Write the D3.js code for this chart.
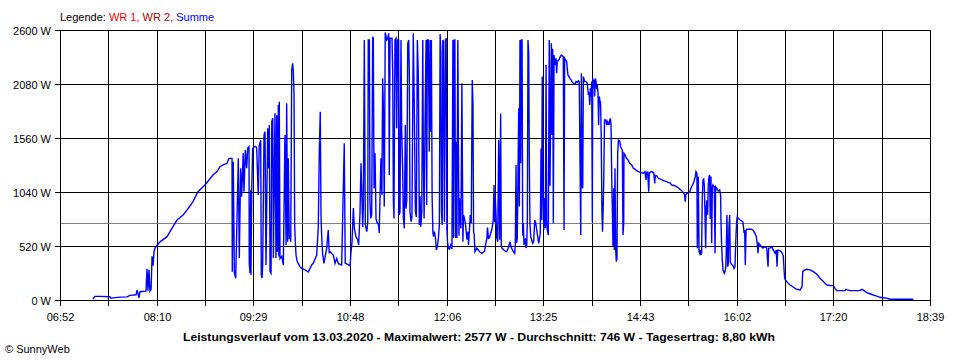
<!DOCTYPE html>
<html><head><meta charset="utf-8">
<script src="https://cdn.jsdelivr.net/npm/d3@7/dist/d3.min.js"></script>
<style>
body{margin:0;background:#fff}
svg{display:block}
text{font-family:"Liberation Sans",Arial,sans-serif;font-size:11px;fill:#000}
</style>
</head><body>
<svg id="chart" width="960" height="360"></svg>
<script>
// ---------- data ----------
const dayStart = 412;   // 06:52 in minutes of day
const dayEnd = 1119;    // 18:39
const xTickLabels = ["06:52","08:10","09:29","10:48","12:06","13:25","14:43","16:02","17:20","18:39"];
const yTickValues = [0, 520, 1040, 1560, 2080, 2600];
const yTickLabels = ["0 W","520 W","1040 W","1560 W","2080 W","2600 W"];
const averageW = 746;
const legendTitle = "Legende:";
const seriesNames = ["WR 1", "WR 2", "Summe"];
const titleText = "Leistungsverlauf vom 13.03.2020 - Maximalwert: 2577 W - Durchschnitt: 746 W - Tagesertrag: 8,80 kWh";
const creditText = "\u00A9 SunnyWeb";

// Summe: [minute of day, watts]
const summe = [
[438.8,10],[440.4,35],[444.5,35],[452.6,32],[453.4,16],[455.1,20],[460.8,28],[466.4,30],[468.9,45],[473.8,50],[474.6,96],[476.2,20],[477.0,80],[481.9,85],[482.7,300],[483.5,90],[484.3,290],[485.1,85],[486.0,100],[486.8,420],[487.6,330],[488.4,465],[489.2,500],[490.8,525],[493.3,560],[499.0,610],[503.8,706],[507.1,770],[512.0,818],[515.2,867],[520.1,947],[524.1,1043],[529.8,1107],[536.3,1204],[539.6,1236],[542.0,1284],[544.5,1300],[547.7,1316],[549.3,1364],[551.8,1364],
[552.0,273],[552.8,1332],[553.7,260],[554.8,209],[556.9,1364],[557.7,404],[558.8,1268],[559.6,995],[560.9,1412],[561.5,1043],[562.6,1444],[563.7,1268],[564.5,1460],[565.6,1476],[565.8,353],[566.4,260],[567.0,1059],[567.2,240],[567.8,1059],[568.6,1460],[570.5,1480],[571.8,1470],[573.1,1011],[573.9,1490],[575.1,1540],[575.6,240],[576.2,212],[576.7,337],[577.8,1589],[578.6,1620],[579.4,337],[580.8,1653],[581.6,1268],[582.1,1685],[582.7,273],[583.5,257],[584.1,1717],[584.9,1750],[585.4,404],[586.7,1798],[587.5,404],[588.1,1780],[588.6,465],[589.4,1878],[589.8,420],[590.2,1910],[590.8,400],[592.2,420],[593.5,337],[594.8,1589],[595.7,530],[596.2,1894],[597.0,560],[597.5,1364],[598.3,590],[598.9,626],[599.5,560],[600.3,2215],[601.1,2279],[601.6,2200],[602.2,1974],[602.7,722],[603.2,561],[603.8,433],[604.8,369],[607.0,321],[608.4,305],[611.1,289],[613.8,270],[616.5,337],[617.8,353],[620.6,433],[621.9,706],[622.7,1428],[623.5,1813],[624.1,818],[624.7,597],[625.5,433],[626.5,353],[628.7,498],[630.0,674],[630.8,450],[631.4,465],[634.1,433],[635.5,353],[636.9,400],[638.2,350],[640.9,337],[643.0,1509],[643.8,353],[646.3,340],
[647.7,330],[648.5,465],[649.3,561],[650.4,886],[651.2,690],[652.5,610],[653.9,580],[654.7,530],[655.8,835],[656.6,1316],[657.4,979],[658.0,700],[658.5,900],[659.3,2504],[660.1,722],[661.3,658],[662.1,750],[662.5,2504],[663.4,2504],[663.9,947],[664.5,786],[665.3,820],[666.1,2536],[666.6,2520],[667.2,1075],[668.0,1412],[668.8,786],[669.4,754],[671.0,720],[671.4,645],[672.8,1364],[673.6,1011],[674.2,2135],[674.7,1910],[675.5,900],[676.3,2577],[677.5,2504],[678.3,2520],[679.1,2568],[679.6,1204],[680.2,2520],[681.8,2520],[682.4,2183],[682.9,963],[683.4,786],[684.2,2504],[685.1,2520],[685.6,1653],[686.4,2504],[687.2,2504],[687.7,818],[688.3,850],[689.1,2504],[689.7,1620],[690.5,1236],[691.0,800],[691.8,690],[692.6,1685],[693.2,880],[693.8,960],[694.6,2472],[695.4,2504],[695.9,2167],[696.4,850],[697.3,754],[698.0,800],[699.1,2568],[699.9,1862],[700.8,850],[701.6,800],[702.4,2504],[703.2,2151],[704.0,722],[704.6,1000],[705.2,706],[706.0,850],[706.8,2504],[707.3,1364],[707.9,786],[708.7,1782],[709.5,2504],[710.0,915],[710.5,2504],[711.3,2504],[712.1,1428],[712.7,2504],[713.3,1620],[713.8,2504],[714.4,1000],[715.0,658],[715.5,610],[716.3,658],[717.1,597],[717.9,481],[718.7,514],[719.5,597],[720.3,722],[720.9,2560],[721.5,2392],[722.0,850],[722.6,722],[723.1,2504],[723.6,2490],[724.4,754],[725.2,2504],[725.8,2520],[726.4,690],[726.9,561],[727.7,498],[728.5,490],[729.6,530],[730.5,490],[731.3,2504],[731.8,597],[732.3,2504],[732.9,2504],[733.4,597],[734.0,1524],[734.5,597],[735.3,2504],[736.2,620],[736.7,980],[737.2,786],[737.8,690],[738.6,2087],[739.4,561],[739.9,818],[740.7,786],[741.6,722],[742.7,580],[743.5,658],[744.0,530],[744.8,690],[745.4,818],[746.2,740],[747.0,2119],[747.6,1878],[748.1,658],[748.6,626],[749.2,465],[750.8,500],[752.9,465],[754.9,449],[757.0,470],[757.8,530],[758.9,594],[759.4,697],[760.2,594],[761.0,600],
[763.1,690],[764.1,770],[764.7,1107],[765.3,750],[765.7,995],[766.3,830],[766.9,597],[767.7,560],[768.5,1540],[769.3,580],[770.1,1797],[770.6,530],[771.2,498],[773.6,472],[775.0,465],[776.3,500],[777.7,561],[778.5,510],[780.4,465],[781.5,449],[782.0,530],[782.6,1300],[783.1,550],[783.6,594],[784.2,1220],[784.8,1846],[785.3,900],[785.8,2504],[786.4,1316],[786.9,2504],[787.5,2504],[788.0,620],[788.5,740],[789.1,530],[790.2,594],[790.7,500],[791.3,530],[791.8,770],[792.3,2504],[792.9,2376],[793.4,1316],[793.9,740],[794.5,610],[796.1,546],[796.9,560],[797.8,770],[798.6,741],[799.4,674],[801.0,546],[802.3,640],[802.9,1460],[803.4,770],[803.9,2151],[804.5,1100],[805.1,674],[805.6,982],[806.4,690],[807.0,2263],[807.5,740],[808.0,674],[808.8,626],[809.6,2504],[810.2,1100],[810.8,1910],[811.3,2472],[811.8,1589],[812.4,2420],[812.9,738],[813.5,2359],[814.3,2263],[815.1,2327],[815.6,2183],[816.1,2295],[817.7,2320],[818.6,2343],[819.4,2359],[821.0,2343],[821.6,674],[822.1,2327],[822.9,2311],[823.8,2295],[824.2,2231],[824.8,2167],[826.4,2135],[827.3,2119],[828.1,2103],[829.1,2087],[830.5,2080],[831.3,2103],[832.4,2095],[833.2,2110],[834.0,2103],[834.6,1332],[835.2,626],[835.7,2183],[836.2,1100],[836.8,1075],[837.3,2151],[838.4,2103],[839.5,2103],[840.5,2087],[841.4,1974],[841.9,2000],[842.5,1878],[843.0,2040],[843.5,1960],[844.1,2103],[844.6,754],[844.9,2135],[845.4,2040],[846.0,2120],[846.5,1960],[847.0,2135],[847.6,2103],[848.1,2030],[848.6,2071],[849.2,2000],[849.7,1685],[850.2,1960],[850.7,1926],[851.3,1894],[851.8,1589],[852.4,850],[852.9,658],[853.4,880],[853.9,1172],[854.5,1733],[855.6,1733],[856.1,1700],[856.6,1717],[857.2,1685],[857.7,1717],[858.2,1685],[858.8,1733],[859.3,1749],[859.8,1685],[860.4,1156],[860.9,850],[861.4,514],[862.0,1075],[862.5,481],[863.0,1268],[863.6,481],[864.1,369],[864.6,400],[865.2,1412],[865.8,1540],[866.8,1534],[867.6,1476],[868.2,1460],[869.0,1444],[869.5,626],[870.1,738],[870.3,1412],[871.1,1400],[872.3,1364],[873.6,1350],[875.0,1316],
[876.6,1300],[877.9,1268],[879.3,1260],[880.6,1245],[881.9,1236],[884.7,1225],[886.0,1220],[887.4,1236],[888.2,1156],[888.8,1230],[889.6,1230],[890.4,1043],[890.9,1225],[892.8,1236],[894.5,1225],[895.3,1123],[895.8,1200],[896.9,1195],[898.2,1172],[901.0,1160],[902.3,1149],[905.0,1140],[906.3,1130],[907.7,1130],[909.1,1107],[911.8,1100],[914.5,1080],[915.8,1065],[917.2,1053],[918.5,1033],[919.3,1021],[920.1,947],[920.7,1021],[922.6,1030],[923.1,1037],[923.9,1043],[924.5,1070],[925.3,1091],[926.1,1110],[927.2,1139],[927.8,1170],[928.3,1188],[928.8,1236],[929.6,1220],[929.9,498],[930.7,1188],[931.3,465],[931.8,449],[932.3,480],[932.9,433],[933.4,449],[933.9,963],[934.5,1156],[935.1,1165],[935.6,1100],[936.1,850],[936.7,498],[937.2,899],[937.8,963],[938.3,820],[938.8,1100],[939.4,1188],[939.9,1204],[940.4,780],[941.0,1188],[941.6,546],[942.1,1075],[942.6,1107],[943.7,1090],[944.3,449],[944.8,1090],[945.9,1070],[946.9,1050],[948.1,1060],[948.6,1030],[948.9,995],[949.1,770],[949.7,514],[950.2,385],[950.8,289],[951.8,257],[952.4,270],[953.0,310],[953.4,450],[954.0,818],[954.6,321],[955.1,350],[955.6,690],[956.2,818],[956.7,369],[957.3,350],[958.9,330],[959.7,305],[960.5,320],[961.3,610],[961.9,760],[962.4,802],[962.9,790],[964.6,770],[966.2,760],[967.0,750],[967.8,658],[968.4,665],[968.9,337],[969.5,665],[970.0,681],[974.1,681],[975.4,670],[976.8,640],[977.9,610],[978.7,530],[979.2,450],[979.8,546],[980.9,530],[981.9,514],[983.1,500],[984.9,514],[986.3,500],[987.4,321],[987.9,500],[989.0,500],[990.4,514],[991.7,480],[993.1,449],[994.1,481],[994.7,321],[995.3,481],[997.1,475],[997.9,465],[999.0,449],[999.8,420],[1000.4,289],[1000.9,208],[1001.4,195],[1002.6,177],[1003.9,160],[1005.3,144],[1006.6,135],[1007.9,125],[1009.3,112],[1010.7,103],[1013.4,96],[1015.0,128],[1015.6,273],[1016.6,285],[1018.8,296],[1021.5,290],[1024.2,273],[1026.9,250],[1029.6,209],[1032.3,177],[1035.1,144],[1037.8,140],[1040.4,138],[1041.8,112],[1043.2,90],[1049.9,90],[1050.7,103],[1051.8,98],[1054.0,90],[1058.1,90],[1062.1,92],[1063.7,103],[1064.8,95],[1067.6,71],[1070.2,60],[1072.9,48],[1075.7,38],[1078.4,26],[1081.1,22],[1083.8,18],[1086.5,7],[1105.4,7]
];

// ---------- layout / style ----------
const W = 960, H = 360;
const plot = {left: 60, right: 930, top: 30, bottom: 300};
const seriesColors = ["#ff0000", "#b00000", "#0000ff"];

const svg = d3.select("#chart");
const x = d3.scaleLinear().domain([dayStart, dayEnd]).range([plot.left, plot.right]);
const y = d3.scaleLinear().domain([0, 2600]).range([plot.bottom, plot.top]);
const px = v => Math.round(v) + 0.5;

// vertical grid + ticks (18 intervals, label on every second)
const nIntervals = (xTickLabels.length - 1) * 2;
const xGridValues = d3.range(nIntervals + 1).map(i => dayStart + i * (dayEnd - dayStart) / nIntervals);

const grid = svg.append("g").attr("shape-rendering", "crispEdges");
grid.selectAll("line.v").data(xGridValues).join("line")
  .attr("x1", d => px(x(d))).attr("x2", d => px(x(d)))
  .attr("y1", px(plot.top)).attr("y2", plot.bottom + 6)
  .attr("stroke", "#000").attr("stroke-width", 1);
grid.selectAll("line.h").data(yTickValues).join("line")
  .attr("x1", plot.left - 5).attr("x2", px(plot.right) + 0.5)
  .attr("y1", d => px(y(d))).attr("y2", d => px(y(d)))
  .attr("stroke", "#000").attr("stroke-width", 1);

// average line
svg.append("line").attr("shape-rendering", "crispEdges")
  .attr("x1", px(plot.left) + 0.5).attr("x2", px(plot.right) - 0.5)
  .attr("y1", px(y(averageW))).attr("y2", px(y(averageW)))
  .attr("stroke", "#808080").attr("stroke-width", 1);

// y labels
svg.append("g").selectAll("text").data(yTickValues).join("text")
  .attr("x", plot.left - 9).attr("y", d => px(y(d)) + 4)
  .attr("text-anchor", "end")
  .text((d, i) => yTickLabels[i]);

// x labels
svg.append("g").selectAll("text").data(xTickLabels).join("text")
  .attr("x", (d, i) => px(x(xGridValues[i * 2])))
  .attr("y", 321)
  .attr("text-anchor", "middle")
  .text(d => d);

// data line
const line = d3.line().x(d => x(d[0])).y(d => y(d[1]));
svg.append("path").datum(summe)
  .attr("d", line)
  .attr("fill", "none")
  .attr("stroke", seriesColors[2])
  .attr("stroke-width", 1.4)
  .attr("stroke-linejoin", "miter");

// legend
const leg = svg.append("text").attr("x", plot.left).attr("y", 21);
leg.append("tspan").text(legendTitle + " ");
seriesNames.forEach((n, i) => {
  leg.append("tspan").attr("fill", seriesColors[i]).style("fill", seriesColors[i])
    .text(n + (i < seriesNames.length - 1 ? ", " : ""));
});

// title
svg.append("text").attr("x", 479).attr("y", 341)
  .attr("text-anchor", "middle")
  .style("font-weight", "bold").style("font-size", "11px")
  .attr("textLength", 592).attr("lengthAdjust", "spacingAndGlyphs")
  .text(titleText);

// credit
svg.append("text").attr("x", 5).attr("y", 353).text(creditText);
</script>
</body></html>
